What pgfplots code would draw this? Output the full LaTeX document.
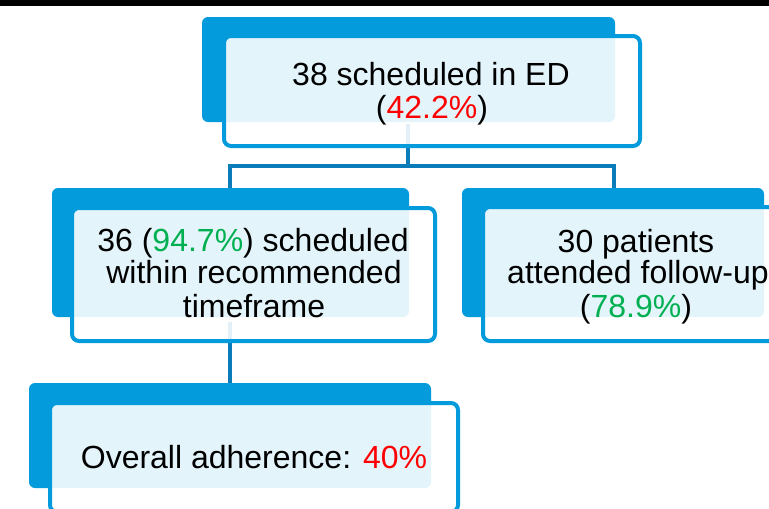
\documentclass[border=0pt]{standalone}
\usepackage{pgfplots}
\pgfplotsset{compat=1.18}
\usepackage{fontspec}
\setmainfont{Liberation Sans}
\definecolor{boxblue}{RGB}{3,155,220}
\definecolor{linkblue}{RGB}{10,124,186}
\definecolor{pctred}{RGB}{255,0,0}
\definecolor{pctgreen}{RGB}{0,176,80}
\begin{document}
\begin{tikzpicture}
\begin{axis}[
  width=769pt, height=509pt, scale only axis,
  xmin=0, xmax=769, ymin=0, ymax=509, y dir=reverse,
  axis lines=none, clip=true,
]
% background and top bar
\addplot[fill=white, draw=none] coordinates {(0,0) (769,0) (769,509) (0,509)} -- cycle;
\addplot[fill=black, draw=none] coordinates {(0,0) (769,0) (769,6) (0,6)} -- cycle;
% connectors
\addplot[linkblue, line width=4pt] coordinates {(408,124) (408,166)};
\addplot[linkblue, line width=4pt] coordinates {(230,188) (230,166) (614,166) (614,188)};
\addplot[linkblue, line width=4pt] coordinates {(230,322) (230,384)};
% back blue rectangles
\addplot[fill=boxblue, draw=none, rounded corners=6pt] coordinates {(202,17) (615,17) (615,122) (202,122)} -- cycle;
\addplot[fill=boxblue, draw=none, rounded corners=6pt] coordinates {(52,188) (409,188) (409,317) (52,317)} -- cycle;
\addplot[fill=boxblue, draw=none, rounded corners=6pt] coordinates {(462,188) (764,188) (764,317) (462,317)} -- cycle;
\addplot[fill=boxblue, draw=none, rounded corners=6pt] coordinates {(29,383) (431,383) (431,488) (29,488)} -- cycle;
% front outlined boxes
\addplot[fill=white, fill opacity=0.89, draw=boxblue, draw opacity=1, line width=4pt, rounded corners=7pt] coordinates {(224,36) (640,36) (640,146) (224,146)} -- cycle;
\addplot[fill=white, fill opacity=0.89, draw=boxblue, draw opacity=1, line width=4pt, rounded corners=7pt] coordinates {(72,208) (435,208) (435,341) (72,341)} -- cycle;
\addplot[fill=white, fill opacity=0.89, draw=boxblue, draw opacity=1, line width=4pt, rounded corners=7pt] coordinates {(483,207) (790,207) (790,341) (483,341)} -- cycle;
\addplot[fill=white, fill opacity=0.89, draw=boxblue, draw opacity=1, line width=4pt, rounded corners=7pt] coordinates {(50,403) (458,403) (458,512) (50,512)} -- cycle;
% texts
\tikzset{lbl/.style={anchor=base, inner sep=0pt, font=\fontsize{32}{33}\selectfont}}
\node[lbl] at (axis cs:431,85) {38 scheduled in ED};
\node[lbl] at (axis cs:432,118) {(\textcolor{pctred}{42.2\%})};
\node[lbl] at (axis cs:253,251) {36 (\textcolor{pctgreen}{94.7\%}) scheduled};
\node[lbl] at (axis cs:254,283) {within recommended};
\node[lbl] at (axis cs:254,317) {timeframe};
\node[lbl] at (axis cs:636,252) {30 patients};
\node[lbl] at (axis cs:638,283) {attended follow-up};
\node[lbl] at (axis cs:636,317) {(\textcolor{pctgreen}{78.9\%})};
\node[lbl] at (axis cs:254,468) {Overall adherence: \textcolor{pctred}{40\%}};
\end{axis}
\pgfresetboundingbox
\path (current axis.south west) rectangle (current axis.north east);
\end{tikzpicture}
\end{document}
